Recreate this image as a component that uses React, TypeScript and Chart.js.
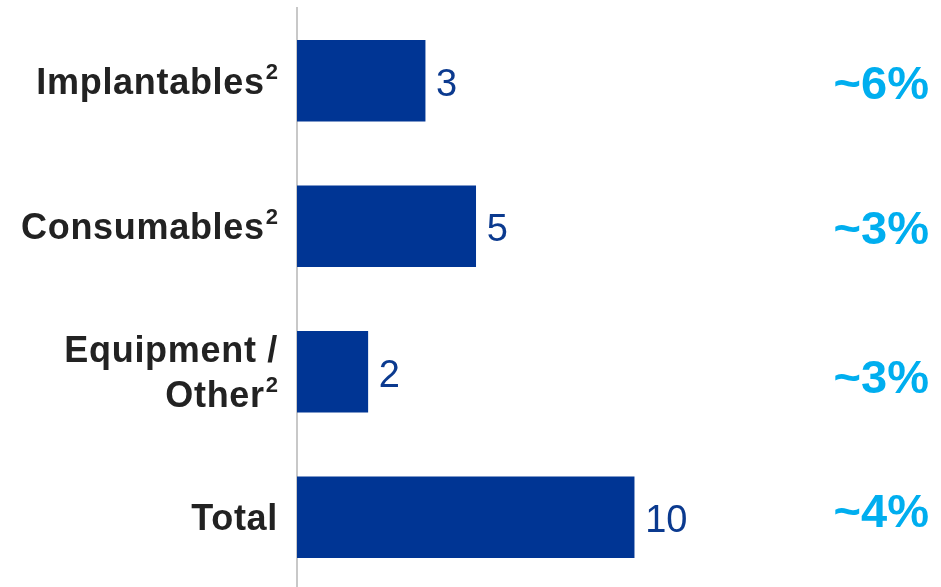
import React, { useEffect, useRef } from "react";
import { Chart, registerables } from "chart.js";

Chart.register(...registerables);

const categories = ["Implantables", "Consumables", "Equipment / Other", "Total"];
const categoryLines = [["Implantables"], ["Consumables"], ["Equipment /", "Other"], ["Total"]];
const footnotes = ["2", "2", "2", ""];
const barValues = [3.8, 5.3, 2.1, 10];
const valueLabels = ["3", "5", "2", "10"];
const growthLabels = ["~6%", "~3%", "~3%", "~4%"];

const FONT = "'Liberation Sans', Arial, Helvetica, sans-serif";
// small vertical nudges of the growth column relative to each bar centre (px)
const growthNudge = [18, 18, 21, 10];

const labelPlugin = {
  id: "barLabels",
  afterDatasetsDraw(chart: any) {
    const ctx = chart.ctx;
    const meta = chart.getDatasetMeta(0);
    const yScale = chart.scales.y;
    const labelRight = yScale.right - 19;
    ctx.save();
    ctx.textBaseline = "alphabetic";
    meta.data.forEach((bar: any, i: number) => {
      // value labels
      ctx.textAlign = "left";
      ctx.fillStyle = "#0b3a8f";
      ctx.font = `38px ${FONT}`;
      ctx.fillText(valueLabels[i], bar.x + 11, bar.y + 15);
      // growth labels
      ctx.textAlign = "right";
      ctx.fillStyle = "#00aeef";
      ctx.font = `bold 47px ${FONT}`;
      ctx.fillText(growthLabels[i], chart.width - 12, bar.y + growthNudge[i]);

      // category labels
      const center = yScale.getPixelForTick(i);
      const lines = categoryLines[i];
      const n = lines.length;
      ctx.fillStyle = "#222222";
      ctx.textAlign = "left";
      lines.forEach((line: string, k: number) => {
        const baseline = center + 13 + (k - (n - 1) / 2) * 45;
        const sup = k === n - 1 ? footnotes[i] : "";
        (ctx as any).letterSpacing = "0px";
        ctx.font = `bold 22px ${FONT}`;
        const supW = sup ? ctx.measureText(sup).width + 1 : 0;
        ctx.font = `bold 36px ${FONT}`;
        (ctx as any).letterSpacing = "0.7px";
        const mainW = ctx.measureText(line).width;
        ctx.fillText(line, labelRight - supW - mainW, baseline);
        (ctx as any).letterSpacing = "0px";
        if (sup) {
          ctx.font = `bold 22px ${FONT}`;
          ctx.fillText(sup, labelRight - supW + 1, baseline - 15);
        }
      });
    });
    ctx.restore();
  },
};

export default function App() {
  const ref = useRef<HTMLCanvasElement>(null);
  useEffect(() => {
    if (!ref.current) return;
    const chart = new Chart(ref.current, {
      type: "bar",
      data: {
        labels: categories,
        datasets: [
          {
            data: barValues,
            backgroundColor: "#003594",
            barThickness: 81,
          },
        ],
      },
      options: {
        indexAxis: "y",
        animation: false,
        responsive: false,
        maintainAspectRatio: false,
        layout: { padding: { top: 8, bottom: 0, left: 0, right: 172 } },
        plugins: { legend: { display: false }, tooltip: { enabled: false } },
        scales: {
          x: { display: false, min: 0, max: 14 },
          y: {
            afterFit: (scale: any) => {
              scale.width = 297;
              scale.paddingTop = 0;
              scale.paddingBottom = 0;
            },
            grid: { display: false, drawTicks: false },
            border: { display: true, color: "#c8c8c8", width: 2 },
            ticks: { display: false },
          },
        },
      },
      plugins: [labelPlugin],
    });
    return () => chart.destroy();
  }, []);
  return (
    <div style={{ position: "fixed", left: 0, top: 0, width: 941, height: 587, overflow: "hidden", background: "#fff" }}>
      <canvas ref={ref} width={941} height={590} style={{ display: "block" }} />
    </div>
  );
}
